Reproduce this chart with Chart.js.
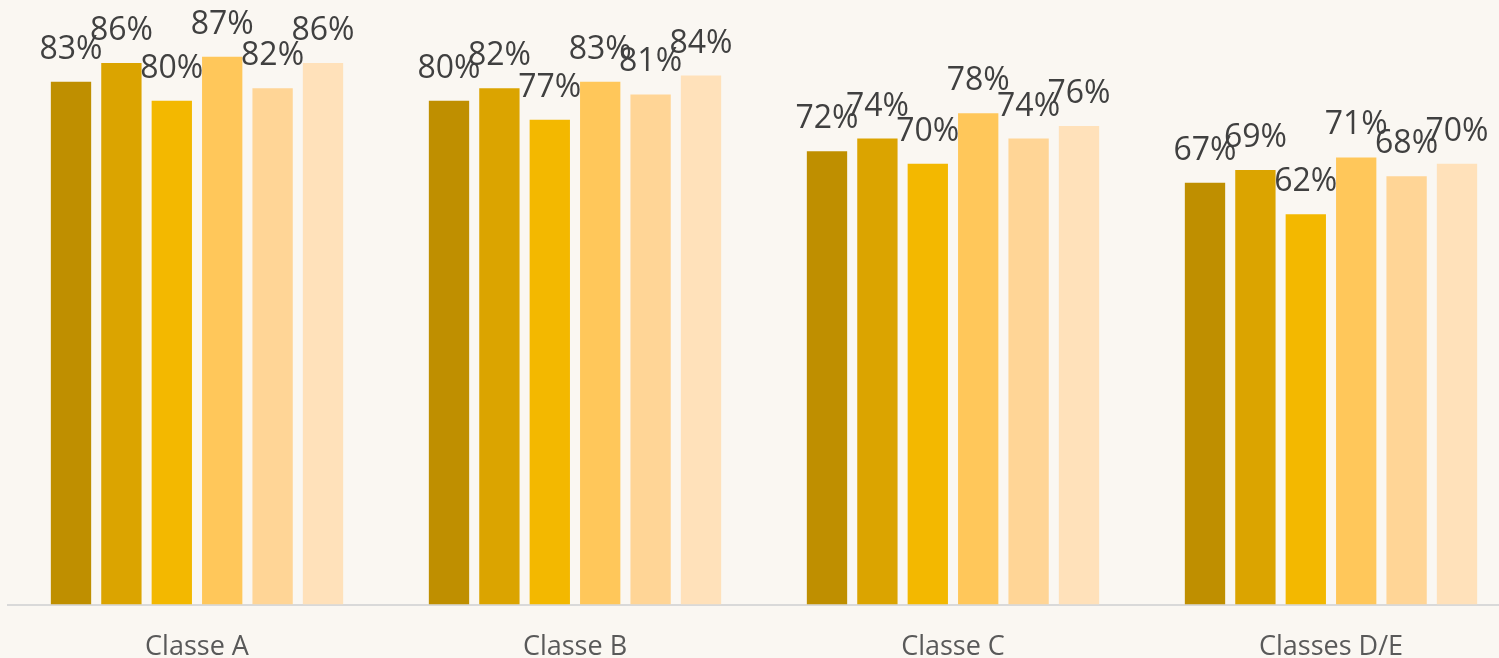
<!DOCTYPE html>
<html>
<head>
<meta charset="utf-8">
<script src="https://cdn.jsdelivr.net/npm/chart.js@4.4.0/dist/chart.umd.min.js"></script>
<style>
  html, body { margin: 0; padding: 0; background: #FAF7F2; overflow: hidden; }
  #wrap { width: 1499px; height: 658px; overflow: hidden; position: relative; }
  canvas { display: block; }
</style>
</head>
<body>
<div id="wrap"><canvas id="c" width="1520" height="658"></canvas></div>
<script>
const categories = ["Classe A", "Classe B", "Classe C", "Classes D/E"];
const seriesNames = ["Série 1", "Série 2", "Série 3", "Série 4", "Série 5", "Série 6"];
const series1 = [83, 80, 72, 67];
const series2 = [86, 82, 74, 69];
const series3 = [80, 77, 70, 62];
const series4 = [87, 83, 78, 71];
const series5 = [82, 81, 74, 68];
const series6 = [86, 84, 76, 70];
const seriesColors = ["#BF8F00", "#DBA400", "#F3B800", "#FFC75A", "#FFD596", "#FFE1BA"];

const allSeries = [series1, series2, series3, series4, series5, series6];

const labelPlugin = {
  id: 'valueLabels',
  afterDatasetsDraw(chart) {
    const ctx = chart.ctx;
    ctx.save();
    ctx.font = '32px "Open Sans", sans-serif';
    ctx.fillStyle = '#404040';
    ctx.textAlign = 'center';
    ctx.textBaseline = 'alphabetic';
    chart.data.datasets.forEach((ds, i) => {
      const meta = chart.getDatasetMeta(i);
      meta.data.forEach((el, j) => {
        ctx.fillText(ds.data[j] + '%', el.x, el.y - 23);
      });
    });
    ctx.restore();
  }
};

new Chart(document.getElementById('c'), {
  type: 'bar',
  data: {
    labels: categories,
    datasets: allSeries.map((s, i) => ({
      label: seriesNames[i],
      data: s,
      backgroundColor: seriesColors[i],
      borderWidth: 0,
      categoryPercentage: 0.8,
      barPercentage: 0.8
    }))
  },
  options: {
    responsive: false,
    animation: false,
    layout: { padding: { left: 8, right: 0, top: 0, bottom: -33 } },
    plugins: { legend: { display: false }, tooltip: { enabled: false } },
    scales: {
      x: {
        grid: { display: true, color: 'rgba(0,0,0,0)', drawTicks: false },
        border: { display: true, color: '#D9D9D9', width: 2 },
        ticks: {
          color: '#595959',
          font: { family: '"Open Sans", sans-serif', size: 27 },
          padding: 27
        }
      },
      y: {
        display: false,
        min: 0,
        max: 96
      }
    }
  },
  plugins: [labelPlugin]
});
</script>
</body>
</html>
